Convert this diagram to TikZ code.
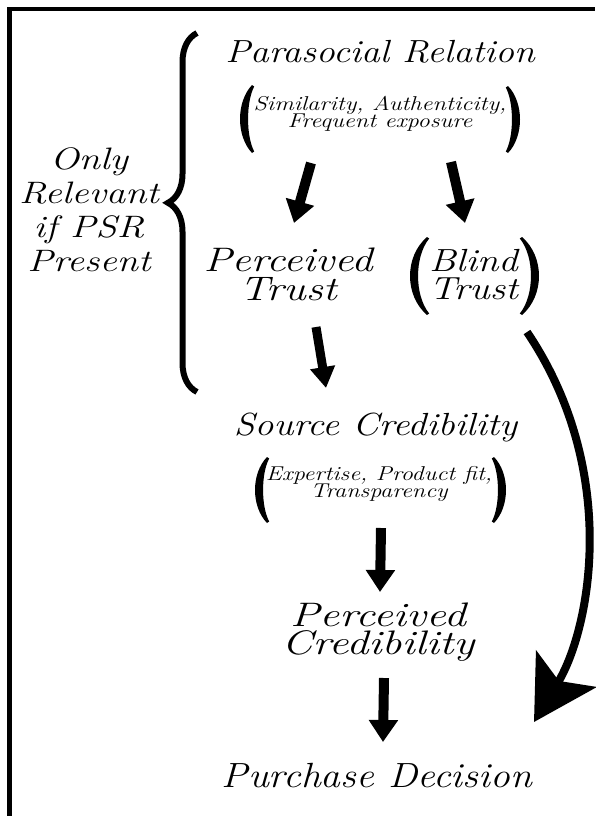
\documentclass[tikz,border=0pt]{standalone}
\usepackage{fontspec}
\usepackage{graphicx}
\usetikzlibrary{arrows.meta,decorations.pathreplacing,calc}
\newcommand\hs[2][1.2]{\scalebox{#1}[1]{#2}}
\newcommand\fsz[2]{\fontsize{#1}{#2}\selectfont\lineskiplimit=-100pt\itshape}
\tikzset{
  lbl/.style={inner sep=0pt, align=center, anchor=base},
  fatarrow/.style={line width=10pt, -{Triangle[length=22pt,width=28pt]}},
  pics/lpar/.style args={#1/#2}{code={\fill (0,0) .. controls (-#2*1.333,0.25*#1) and (-#2*1.333,0.75*#1) .. (0,#1) -- (2.2,#1-1.5) .. controls (-#2*1.333+10,0.75*#1) and (-#2*1.333+10,0.25*#1) .. (2.2,1.5) -- cycle;}},
  pics/rpar/.style args={#1/#2}{code={\fill (0,0) .. controls (#2*1.333,0.25*#1) and (#2*1.333,0.75*#1) .. (0,#1) -- (-2.2,#1-1.5) .. controls (#2*1.333-10,0.75*#1) and (#2*1.333-10,0.25*#1) .. (-2.2,1.5) -- cycle;}},
}
\begin{document}
\begin{tikzpicture}[x=1pt,y=-1pt]
\useasboundingbox (0,0) rectangle (595,816);
% frame
\draw[line width=4.3pt, line join=miter] (9.5,816) -- (9.5,8.7) -- (595,8.7);
% brace
\draw[line width=6pt, decorate, decoration={brace, amplitude=29pt, aspect=0.527}] (197,392) -- (197,33);
% texts
\node[lbl, font=\fsz{32}{32}] (pr) at (380,63) {\hs[1.17]{Parasocial Relation}};
\node[lbl, font=\fsz{20}{16.5}] (prsub) at (380,127) {\hs[1.22]{Similarity, Authenticity,}\\\hs[1.22]{Frequent exposure}};
\node[lbl, font=\fsz{31}{33.7}] (note) at (89,271) {\hs[1.24]{Only}\\\hs[1.24]{Relevant}\\\hs[1.24]{if PSR}\\\hs[1.24]{Present}};
\node[lbl, font=\fsz{34}{29}] (pt) at (288,300) {\hs[1.25]{Perceived}\\\hs[1.25]{Trust}};
\node[lbl, font=\fsz{32}{28}] (bt) at (473.5,299) {\hs[1.21]{Blind}\\\hs[1.21]{Trust}};
\node[lbl, font=\fsz{32}{32}] (sc) at (375.5,435) {\hs[1.18]{Source Credibility}};
\node[lbl, font=\fsz{20}{16.5}] (scsub) at (379,497) {\hs[1.21]{Expertise, Product fit,}\\\hs[1.21]{Transparency}};
\node[lbl, font=\fsz{34}{28}] (pc) at (378,654) {\hs[1.3]{Perceived}\\\hs[1.3]{Credibility}};
\node[lbl, font=\fsz{35}{35}] (pd) at (377,787) {\hs[1.13]{Purchase Decision}};
% parentheses
\pic at (252,85) {lpar=68/12};
\pic at (508,86) {rpar=67/12};
\pic at (427,237) {lpar=78/17};
\pic at (522,237) {rpar=78/17};
\pic at (267,457) {lpar=66/12};
\pic at (494,457) {rpar=66/12};
% connectors
\draw[fatarrow] ($(prsub.base)+(-69,36)$) -- ($(pt.base)+(6,-77)$);
\draw[fatarrow] ($(prsub.base)+(71,35)$) -- ($(bt.base)+(-8.5,-76)$);
\draw[fatarrow, line width=9pt, -{Triangle[length=21pt,width=24pt]}] ($(pt.base)+(28,27)$) -- ($(sc.base)+(-49.5,-47)$);
\draw[fatarrow] ($(scsub.base)+(2,31)$) -- ($(pc.base)+(2,-62)$);
\draw[fatarrow] ($(pc.base)+(6,24)$) -- ($(pd.base)+(6,-45)$);
\draw[line width=8pt, -{Stealth[length=62pt,width=70pt,inset=14pt]}] ($(bt.base)+(53.5,33)$) .. controls ($(bt.base)+(146.5,171)$) and ($(pd.base)+(214,-159)$) .. ($(pd.base)+(157,-65)$);
\end{tikzpicture}
\end{document}
